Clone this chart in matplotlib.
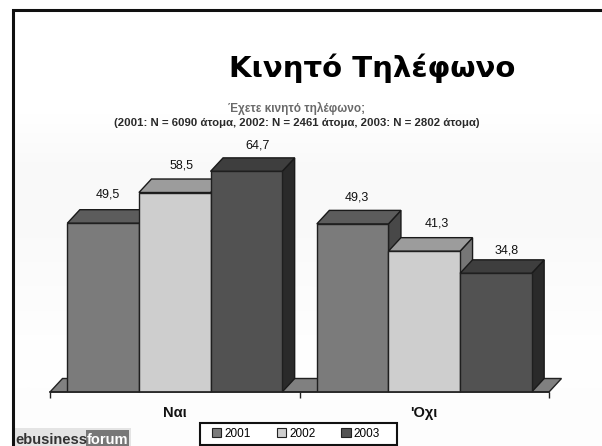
import numpy as np
import matplotlib
matplotlib.use("Agg")
import matplotlib.pyplot as plt
from matplotlib.patches import Polygon, Patch, Rectangle

categories = ["Ναι", "'Οχι"]
years = ["2001", "2002", "2003"]
values_2001 = [49.5, 49.3]
values_2002 = [58.5, 41.3]
values_2003 = [64.7, 34.8]
title = "Κινητό Τηλέφωνο"
subtitle_1 = "Έχετε κινητό τηλέφωνο;"
subtitle_2 = "(2001: N = 6090 άτομα, 2002: N = 2461 άτομα, 2003: N = 2802 άτομα)"

W, H = 602, 446
SANS = ["Liberation Sans", "DejaVu Sans"]

# front, top, side
colors = [("#7b7b7b", "#5c5c5c", "#484848"),
          ("#cecece", "#9c9c9c", "#767676"),
          ("#525252", "#3e3e3e", "#2a2a2a")]
# label nudges in pixels, per year then per category
label_dx = [(4.5, 4.5), (7, 13), (11, 10.5)]
label_dy = [(15, 13), (14, 14), (12, 9)]

fig = plt.figure(figsize=(W / 100, H / 100), dpi=100)

# page layer in pixel coordinates
bg = fig.add_axes([0, 0, 1, 1])
bg.axis("off")
shade = np.array([1.0, 1.0, 0.975, 0.975, 0.985, 0.995, 0.99]).reshape(-1, 1)
bg.imshow(shade, cmap="gray", vmin=0, vmax=1, extent=[14, W, H, 11], aspect="auto",
          interpolation="bilinear", zorder=0)
bg.set_xlim(0, W)
bg.set_ylim(H, 0)
bg.plot([13, 13, W], [H, 10, 10], color="#101010", lw=2.2, solid_joinstyle="miter", zorder=2)

bg.text(372.5, 68, title, family="DejaVu Sans", weight="bold", fontsize=21,
        ha="center", va="center", color="black")
bg.text(297, 108, subtitle_1, family=SANS, weight="bold", fontsize=8.5,
        ha="center", va="center", color="#6a6a6a")
bg.text(297, 123, subtitle_2, family=SANS, weight="bold", fontsize=8.2,
        ha="center", va="center", color="#2a2a2a")

# logo at bottom left
bg.add_patch(Rectangle((15, 428), 116, 20, fc="#e4e4e4", ec="none", zorder=1))
bg.add_patch(Rectangle((86, 430), 43, 18, fc="#777777", ec="none", zorder=1))
bg.text(15, 444.5, "ebusiness", family=SANS, weight="bold", fontsize=10.5,
        ha="left", va="baseline", color="#333333", zorder=2)
bg.text(87, 444.5, "forum", family=SANS, weight="bold", fontsize=10.5,
        ha="left", va="baseline", color="white", zorder=2)

# legend box
bg.add_patch(Rectangle((200, 423), 197, 21.5, fc="white", ec="#111111", lw=1.5, zorder=3))

# chart layer: x in categories, y in percent
px_per_unit = 3.41
x0, x1, base = 50, 549, 392
ymax = 80
ax = fig.add_axes([x0 / W, (H - base) / H, (x1 - x0) / W, ymax * px_per_unit / H])
ax.patch.set_alpha(0)
ax.set_xlim(0, 2)
ax.set_ylim(0, ymax)
depth_x = 12.5 / (x1 - x0) * 2
depth_y = 13.5 / px_per_unit
bar_w = 0.287

ax.add_patch(Polygon([(0, 0), (2, 0), (2 + depth_x, depth_y), (depth_x, depth_y)],
                     closed=True, fc="#808080", ec="#222222", lw=1, clip_on=False, zorder=1))

z = 2
series = [values_2001, values_2002, values_2003]
for c in range(len(categories)):
    for i, vals in enumerate(series):
        v = vals[c]
        left = c + 0.5 + (i - 1) * bar_w - bar_w / 2
        right = left + bar_w
        front, top, side = colors[i]
        ax.add_patch(Polygon([(right, 0), (right + depth_x, depth_y), (right + depth_x, v + depth_y), (right, v)],
                             closed=True, fc=side, ec="#1a1a1a", lw=1, clip_on=False, zorder=z))
        ax.add_patch(Polygon([(left, v), (left + depth_x, v + depth_y), (right + depth_x, v + depth_y), (right, v)],
                             closed=True, fc=top, ec="#1a1a1a", lw=1, clip_on=False, zorder=z))
        ax.bar(left, v, width=bar_w, align="edge", color=front, edgecolor="#1f1f1f", linewidth=1, zorder=z + 1)
        ax.annotate(str(v).replace(".", ","), (left + bar_w / 2, v + depth_y),
                    xytext=(label_dx[i][c] * 0.72, label_dy[i][c] * 0.72), textcoords="offset points",
                    ha="center", va="center", family=SANS, fontsize=9, color="#111111", zorder=20)
        z += 2

for s in ["left", "right", "top"]:
    ax.spines[s].set_visible(False)
ax.spines["bottom"].set_linewidth(1.2)
ax.spines["bottom"].set_color("#222222")
ax.spines["bottom"].set_zorder(30)
ax.set_yticks([])
ax.set_xticks([0, 1, 2])
ax.set_xticklabels([])
ax.tick_params(axis="x", which="major", length=4, width=1, color="#222222")
ax.set_xticks([0.5, 1.5], minor=True)
ax.set_xticklabels(categories, minor=True, family=SANS, fontsize=10.5, weight="bold", color="#111111")
ax.tick_params(axis="x", which="minor", length=0, pad=10)

handles = [Patch(fc=colors[i][0], ec="#222222", lw=0.8, label=years[i]) for i in range(3)]
leg = fig.legend(handles=handles, ncol=3, loc="center", bbox_to_anchor=(296 / W, (H - 434) / H),
                 frameon=False, prop={"family": SANS, "size": 8.5}, handlelength=0.8, handleheight=0.8,
                 handletextpad=0.25, columnspacing=2.2, borderpad=0, borderaxespad=0)
leg.set_zorder(5)

fig.savefig("out.png", dpi=100)
